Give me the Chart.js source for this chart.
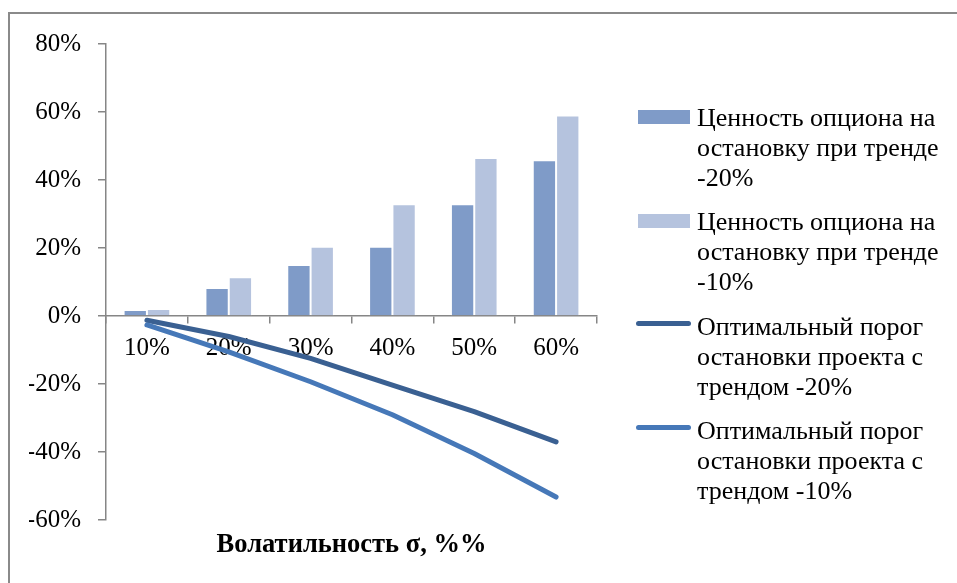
<!DOCTYPE html>
<html>
<head>
<meta charset="utf-8">
<script src="https://cdn.jsdelivr.net/npm/chart.js@4.4.1/dist/chart.umd.min.js"></script>
<style>
  html, body { margin: 0; padding: 0; background: #fff; overflow: hidden; }
  #wrap { position: relative; width: 957px; height: 583px; }
  #frame { position: absolute; left: 8px; top: 12px; width: 2000px; height: 2000px;
           border-left: 2px solid #8a8a8a; border-top: 2px solid #8a8a8a; }
  #myChart { position: absolute; left: 0; top: 0; }
  #legend { position: absolute; left: 636px; top: 103px;
            font-family: 'Liberation Serif', 'Times New Roman', serif; font-size: 26px;
            line-height: 30px; color: #000; }
  .item { position: relative; padding-left: 61px; height: 90px; margin-bottom: 14.3px; white-space: nowrap; }
  .box { position: absolute; left: 2px; top: 7px; width: 52px; height: 14px; }
  .line { position: absolute; left: 0; top: 9.5px; width: 55px; height: 5px; border-radius: 3px; }
</style>
</head>
<body>
<div id="wrap">
  <div id="frame"></div>
  <canvas id="myChart" width="957" height="583"></canvas>
  <div id="legend"></div>
</div>
<script>
const categories = ['10%', '20%', '30%', '40%', '50%', '60%'];

// ценность опциона на остановку, %
const option_trend20 = [1.8, 8.3, 15.0, 20.4, 32.9, 45.8];
const option_trend10 = [2.1, 11.4, 20.4, 32.9, 46.5, 59.0];

// оптимальный порог остановки, %
const threshold_trend20 = [-1.2, -6.0, -12.4, -20.3, -28.1, -37.0];
const threshold_trend10 = [-2.6, -10.5, -19.3, -29.0, -40.4, -53.2];

const series_labels = [
  ['Ценность опциона на', 'остановку при тренде', '-20%'],
  ['Ценность опциона на', 'остановку при тренде', '-10%'],
  ['Оптимальный порог', 'остановки проекта с', 'трендом -20%'],
  ['Оптимальный порог', 'остановки проекта с', 'трендом -10%'],
];

const FONT = "'Liberation Serif', 'Times New Roman', serif";
const AXIS_COLOR = '#868686';

const ctx = document.getElementById('myChart').getContext('2d');

const chart = new Chart(ctx, {
  type: 'bar',
  data: {
    labels: categories,
    datasets: [
      {
        label: series_labels[0].join(' '),
        data: option_trend20,
        backgroundColor: '#7f9bc8',
        borderColor: '#ffffff',
        borderWidth: 1,
        order: 2,
      },
      {
        label: series_labels[1].join(' '),
        data: option_trend10,
        backgroundColor: '#b5c3de',
        borderColor: '#ffffff',
        borderWidth: 1,
        order: 2,
      },
      {
        type: 'line',
        label: series_labels[2].join(' '),
        data: threshold_trend20,
        borderColor: '#3a6092',
        borderWidth: 5,
        borderCapStyle: 'round',
        borderJoinStyle: 'round',
        pointRadius: 0,
        tension: 0,
        order: 1,
      },
      {
        type: 'line',
        label: series_labels[3].join(' '),
        data: threshold_trend10,
        borderColor: '#4678b8',
        borderWidth: 5,
        borderCapStyle: 'round',
        borderJoinStyle: 'round',
        pointRadius: 0,
        tension: 0,
        order: 0,
      },
    ],
  },
  options: {
    responsive: false,
    animation: false,
    devicePixelRatio: 1,
    layout: {
      padding: { left: 29, top: 44, right: 360, bottom: 0 },
    },
    datasets: {
      bar: { categoryPercentage: 0.57, barPercentage: 1.0 },
    },
    scales: {
      x: {
        type: 'category',
        position: { y: 0 },
        offset: true,
        grid: {
          drawOnChartArea: false,
          drawTicks: true,
          tickLength: 7,
          color: AXIS_COLOR,
          lineWidth: 1.5,
        },
        border: { color: AXIS_COLOR, width: 1.5 },
        ticks: {
          font: { family: FONT, size: 25 },
          color: '#000',
          padding: 10,
          maxRotation: 0,
        },
      },
      x2: {
        type: 'category',
        position: 'bottom',
        grid: { display: false, drawTicks: false },
        border: { display: false },
        ticks: { display: false },
        title: {
          display: true,
          text: 'Волатильность σ, %%',
          font: { family: FONT, size: 26.5, weight: 'bold' },
          color: '#000',
          padding: { top: 9, bottom: 22 },
        },
      },
      y: {
        min: -60,
        max: 80,
        afterFit: (scale) => {
          scale.width = 77;
        },
        grid: {
          drawOnChartArea: false,
          drawTicks: true,
          tickLength: 8,
          color: AXIS_COLOR,
          lineWidth: 1.5,
        },
        border: { color: AXIS_COLOR, width: 1.5 },
        ticks: {
          stepSize: 20,
          callback: (v) => `${v}%`,
          font: { family: FONT, size: 25 },
          color: '#000',
          padding: 17,
        },
      },
    },
    plugins: {
      legend: { display: false },
      tooltip: { enabled: false },
    },
  },
});

// легенда справа, собирается из наборов данных графика
const legend_el = document.getElementById('legend');
chart.data.datasets.forEach((ds, i) => {
  const item = document.createElement('div');
  item.className = 'item';
  const mark = document.createElement('div');
  if (ds.type === 'line') {
    mark.className = 'line';
    mark.style.background = ds.borderColor;
  } else {
    mark.className = 'box';
    mark.style.background = ds.backgroundColor;
  }
  item.appendChild(mark);
  item.insertAdjacentHTML('beforeend', series_labels[i].join('<br>'));
  legend_el.appendChild(item);
});
</script>
</body>
</html>
